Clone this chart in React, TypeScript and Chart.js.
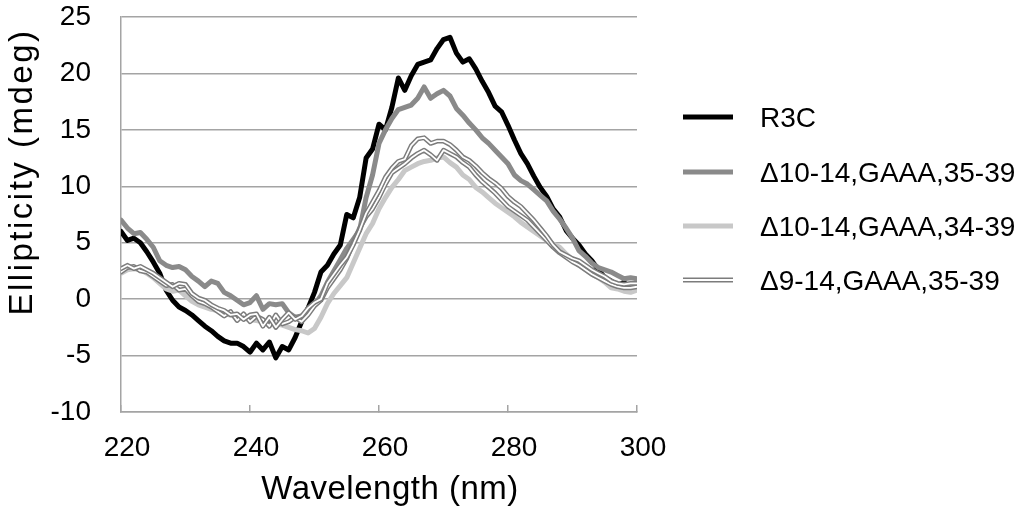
import React, { useEffect, useRef } from "react";
import { Chart, registerables } from "chart.js";

Chart.register(...registerables);

// Wavelength (nm), 1 nm steps
const WAVELENGTH = [
  220, 221, 222, 223, 224, 225, 226, 227, 228, 229,
  230, 231, 232, 233, 234, 235, 236, 237, 238, 239,
  240, 241, 242, 243, 244, 245, 246, 247, 248, 249,
  250, 251, 252, 253, 254, 255, 256, 257, 258, 259,
  260, 261, 262, 263, 264, 265, 266, 267, 268, 269,
  270, 271, 272, 273, 274, 275, 276, 277, 278, 279,
  280, 281, 282, 283, 284, 285, 286, 287, 288, 289,
  290, 291, 292, 293, 294, 295, 296, 297, 298, 299, 300,
];

const R3C = [
  6.0, 5.2, 5.4, 5.0, 4.2, 3.3, 2.3, 0.8, -0.1, -0.7,
  -1.0, -1.4, -1.9, -2.4, -2.8, -3.3, -3.7, -3.9, -3.9, -4.2,
  -4.7, -3.9, -4.5, -3.8, -5.2, -4.2, -4.5, -3.4, -2.0, -0.8,
  0.6, 2.4, 3.0, 4.0, 4.8, 7.5, 7.2, 9.0, 12.5, 13.3,
  15.5, 15.0, 17.0, 19.6, 18.5, 19.8, 20.8, 21.0, 21.2, 22.2,
  23.0, 23.2, 21.8, 21.0, 21.3, 20.4, 19.3, 18.3, 17.1, 16.6,
  15.4, 14.1, 12.9, 12.0, 10.9, 9.9, 9.1, 8.0, 7.3, 6.1,
  5.4, 4.8, 4.0, 3.4, 2.6, 1.9, 1.6, 1.2, 1.5, 0.8, 0.9,
];

const D10_14_35_39 = [
  7.0, 6.3, 5.8, 5.9, 5.3, 4.6, 3.4, 3.0, 2.8, 2.9,
  2.6, 2.0, 1.6, 1.1, 1.6, 1.4, 0.6, 0.3, -0.1, -0.5,
  -0.3, 0.3, -0.9, -0.4, -0.5, -0.4, -1.2, -1.6, -1.5, -1.2,
  -0.5, 0.3, 1.5, 2.5, 3.5, 4.5, 5.3, 6.1, 9.0, 11.0,
  13.8, 15.0, 16.0, 16.8, 17.0, 17.2, 17.8, 18.8, 17.8, 18.2,
  18.5, 18.0, 16.9, 16.3, 15.6, 15.0, 14.3, 13.8, 13.2, 12.6,
  12.0, 11.0, 10.5, 10.2, 9.7, 9.2, 8.7, 7.8, 7.1, 6.3,
  5.4, 4.3, 3.8, 3.2, 2.8, 2.6, 2.4, 2.1, 1.8, 1.9, 1.8,
];

const D10_14_34_39 = [
  2.3, 2.6, 2.7, 2.6, 2.3, 1.9, 1.4, 0.9, 0.7, 0.8,
  0.3, -0.2, -0.5, -0.7, -0.9, -1.0, -1.3, -1.4, -1.6, -1.7,
  -1.8, -1.9, -2.0, -2.1, -2.2, -2.3, -2.5, -2.7, -2.8, -3.0,
  -2.6, -1.6, -0.4, 0.5, 1.2, 1.9, 3.2, 4.5, 5.8, 6.7,
  8.0, 9.0, 9.9, 10.6, 11.4, 11.7, 12.0, 12.2, 12.3, 12.5,
  12.6, 12.1, 11.7, 11.0, 10.6, 9.9, 9.5, 9.0, 8.5, 8.1,
  7.7, 7.3, 6.8, 6.4, 6.0, 5.6, 5.2, 4.9, 4.6, 4.0,
  3.5, 3.0, 2.6, 2.2, 1.9, 1.5, 1.0, 0.9, 0.7, 0.6, 0.8,
];

const D9_14_35_39 = [
  2.7, 3.0, 2.7, 2.9, 2.6, 2.3, 1.9, 1.5, 1.1, 1.4,
  1.3, 0.5, 0.1, -0.1, -0.5, -0.8, -1.0, -1.4, -1.3, -1.8,
  -1.4, -1.3, -2.4, -1.6, -2.5, -1.8, -1.2, -1.8, -1.5, -0.8,
  -0.3, 0.0, 1.4, 2.2, 3.0, 3.7, 4.8, 6.1, 7.6, 8.6,
  9.6, 10.8, 11.6, 12.2, 12.4, 13.6, 14.2, 14.3, 13.8, 14.0,
  14.0, 13.7, 13.2, 12.6, 12.3, 11.8, 11.2, 10.7, 10.3, 9.8,
  9.1, 8.6, 8.2, 7.6, 7.0, 6.3, 5.6, 4.8, 4.2, 3.9,
  3.6, 3.4, 3.0, 2.6, 2.3, 2.0, 1.6, 1.4, 1.3, 1.4, 1.4,
];

// second trace drawn in the same double-line style (not in legend)
const D9_14_35_39_REP = [
  2.4, 2.8, 2.9, 2.5, 2.4, 2.0, 1.6, 1.2, 1.3, 0.8,
  0.9, 0.3, -0.2, -0.4, -0.7, -1.1, -1.5, -1.1, -1.9, -1.3,
  -2.0, -1.5, -1.8, -2.4, -1.4, -2.2, -2.0, -1.6, -2.0, -1.4,
  -0.6, -0.1, 1.0, 1.8, 2.6, 3.6, 5.0, 6.3, 7.3, 8.0,
  9.0, 10.2, 11.2, 11.6, 12.0, 12.5, 12.9, 13.2, 12.8, 12.3,
  13.2, 12.9, 12.6, 12.1, 11.7, 11.0, 10.4, 9.9, 9.4, 8.8,
  8.2, 7.8, 7.4, 7.0, 6.4, 5.8, 5.2, 4.6, 4.1, 3.7,
  3.3, 3.0, 2.6, 2.2, 1.9, 1.6, 1.3, 1.1, 1.0, 1.0, 1.1,
];

const X_TICKS = [220, 240, 260, 280, 300];
const Y_TICKS = [-10, -5, 0, 5, 10, 15, 20, 25];
const X_TITLE = "Wavelength (nm)";
const Y_TITLE = "Ellipticity (mdeg)";
const LEGEND_LABELS = ["R3C", "Δ10-14,GAAA,35-39", "Δ10-14,GAAA,34-39", "Δ9-14,GAAA,35-39"];

const FONT = '"Liberation Sans", Arial, Helvetica, sans-serif';
const BLACK = "#000000";
const DARK = "#8a8a8a";
const LIGHT = "#c8c8c8";
const DOUBLE = "#7c7c7c";
const GRID = "#a4a4a4";

const toXY = (ys: number[]) => WAVELENGTH.map((x, i) => ({ x, y: ys[i] }));

const overlayPlugin = {
  id: "overlay",
  afterDraw(chart: any) {
    const ctx = chart.ctx as CanvasRenderingContext2D;
    const a = chart.chartArea;
    ctx.save();
    ctx.fillStyle = "#000";
    // X title
    ctx.save();
    (ctx as any).letterSpacing = "0.5px";
    ctx.font = `33px ${FONT}`;
    ctx.textAlign = "center";
    ctx.textBaseline = "middle";
    ctx.fillText(X_TITLE, (a.left + a.right) / 2 + 11, a.bottom + 78);
    ctx.restore();
    // Y title
    ctx.save();
    ctx.translate(23, a.top + 155);
    ctx.rotate(-Math.PI / 2);
    (ctx as any).letterSpacing = "2.5px";
    ctx.font = `33px ${FONT}`;
    ctx.textAlign = "center";
    ctx.textBaseline = "middle";
    ctx.fillText(Y_TITLE, 0, 0);
    ctx.restore();

    // Legend
    const lx0 = a.right + 46;
    const lx1 = lx0 + 50;
    const tx = lx0 + 77;
    const rows = [a.top + 100, a.top + 155, a.top + 209, a.top + 263];
    ctx.font = `28px ${FONT}`;
    ctx.textAlign = "left";
    ctx.textBaseline = "middle";
    ctx.lineCap = "butt";
    LEGEND_LABELS.forEach((label, i) => {
      const y = rows[i];
      if (i === 3) {
        ctx.strokeStyle = DOUBLE;
        ctx.lineWidth = 5;
        ctx.beginPath();
        ctx.moveTo(lx0, y);
        ctx.lineTo(lx1, y);
        ctx.stroke();
        ctx.strokeStyle = "#ffffff";
        ctx.lineWidth = 2;
        ctx.beginPath();
        ctx.moveTo(lx0, y);
        ctx.lineTo(lx1, y);
        ctx.stroke();
      } else {
        ctx.strokeStyle = [BLACK, DARK, LIGHT][i];
        ctx.lineWidth = 5;
        ctx.beginPath();
        ctx.moveTo(lx0, y);
        ctx.lineTo(lx1, y);
        ctx.stroke();
      }
      ctx.fillStyle = "#000";
      ctx.fillText(label, tx, y + 2);
    });
    ctx.restore();
  },
};

export default function App() {
  const ref = useRef<HTMLCanvasElement | null>(null);

  useEffect(() => {
    if (!ref.current) return;
    const common = {
      pointRadius: 0,
      pointHoverRadius: 0,
      tension: 0,
      fill: false,
      borderJoinStyle: "round" as const,
      borderCapStyle: "round" as const,
    };
    const chart = new Chart(ref.current, {
      type: "line",
      data: {
        datasets: [
          { ...common, label: LEGEND_LABELS[0], data: toXY(R3C), borderColor: BLACK, borderWidth: 5, order: 6 },
          { ...common, label: LEGEND_LABELS[1], data: toXY(D10_14_35_39), borderColor: DARK, borderWidth: 5, order: 5 },
          { ...common, label: LEGEND_LABELS[2], data: toXY(D10_14_34_39), borderColor: LIGHT, borderWidth: 5, order: 4 },
          { ...common, label: LEGEND_LABELS[3], data: toXY(D9_14_35_39_REP), borderColor: DOUBLE, borderWidth: 4.8, order: 3 },
          { ...common, label: "rep-inner", data: toXY(D9_14_35_39_REP), borderColor: "#ffffff", borderWidth: 1.8, order: 2 },
          { ...common, label: LEGEND_LABELS[3] + " ", data: toXY(D9_14_35_39), borderColor: DOUBLE, borderWidth: 4.8, order: 1 },
          { ...common, label: "inner", data: toXY(D9_14_35_39), borderColor: "#ffffff", borderWidth: 1.8, order: 0 },
        ],
      },
      options: {
        animation: false,
        responsive: true,
        maintainAspectRatio: false,
        events: [],
        layout: { padding: { top: 17, right: 387, left: 0, bottom: 0 } },
        plugins: {
          legend: { display: false },
          tooltip: { enabled: false },
          title: { display: false },
        },
        scales: {
          x: {
            type: "linear",
            min: 220,
            max: 300,
            afterBuildTicks: (s: any) => {
              s.ticks = X_TICKS.map((v) => ({ value: v }));
            },
            afterFit: (s: any) => {
              s.height = 108;
              s.paddingLeft = 0;
              s.paddingRight = 0;
            },
            grid: {
              drawOnChartArea: false,
              drawTicks: true,
              tickLength: -7,
              color: GRID,
              lineWidth: 1.5,
            },
            border: { display: true, color: GRID, width: 1.5 },
            ticks: {
              color: "#000",
              font: { family: FONT, size: 28 },
              padding: 26,
              labelOffset: 6,
              maxRotation: 0,
            },
          },
          y: {
            type: "linear",
            min: -10,
            max: 25,
            afterBuildTicks: (s: any) => {
              s.ticks = Y_TICKS.map((v) => ({ value: v }));
            },
            afterFit: (s: any) => {
              s.width = 121;
              s.paddingTop = 0;
              s.paddingBottom = 0;
            },
            grid: {
              drawTicks: false,
              color: GRID,
              lineWidth: 1.5,
            },
            border: { display: true, color: GRID, width: 1.5 },
            ticks: {
              color: "#000",
              font: { family: FONT, size: 28 },
              padding: 30,
            },
          },
        },
      },
      plugins: [overlayPlugin],
    });
    return () => chart.destroy();
  }, []);

  return (
    <div style={{ position: "absolute", left: 0, top: 0, width: 1024, height: 520, fontFamily: FONT }}>
      <canvas ref={ref} />
    </div>
  );
}
